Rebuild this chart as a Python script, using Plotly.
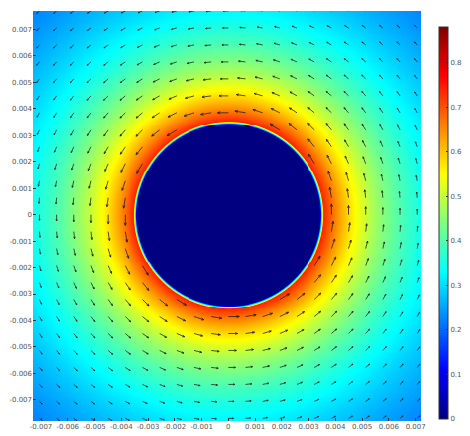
import numpy as np
import plotly.graph_objects as go
import plotly.figure_factory as ff

# ---- values ----
cylinder_radius = 0.00355      # radius of the zero-velocity disc
wall_speed = 0.74              # speed just outside the disc surface
outer_radius = 0.032           # radius where the swirl would vanish (Couette-like decay)
edge_thickness = 0.00013       # width of the thin transition ring
domain_half = 0.0077           # half-size of the computational square
x_range = [-0.0073, 0.0072]
y_range = [-0.0078, 0.0077]
color_max = 0.88
tick_vals = [-0.007, -0.006, -0.005, -0.004, -0.003, -0.002, -0.001, 0,
             0.001, 0.002, 0.003, 0.004, 0.005, 0.006, 0.007]
tick_text = ["-0.007", "-0.006", "-0.005", "-0.004", "-0.003", "-0.002", "-0.001", "0",
             "0.001", "0.002", "0.003", "0.004", "0.005", "0.006", "0.007"]
cbar_vals = [0, 0.1, 0.2, 0.3, 0.4, 0.5, 0.6, 0.7, 0.8]
cbar_text = ["0", "0.1", "0.2", "0.3", "0.4", "0.5", "0.6", "0.7", "0.8"]
arrow_count = 25               # arrows per side of the square

jet = [[0.0, "rgb(0,0,128)"], [0.125, "rgb(0,0,255)"], [0.375, "rgb(0,255,255)"],
       [0.625, "rgb(255,255,0)"], [0.875, "rgb(255,0,0)"], [1.0, "rgb(128,0,0)"]]


def speed(r):
    r = np.maximum(r, 1e-12)
    rr = outer_radius ** 2
    shape = (rr / r - r) / (rr / cylinder_radius - cylinder_radius)
    outside = wall_speed * shape
    t = np.clip((r - (cylinder_radius - edge_thickness)) / edge_thickness, 0, 1)
    ramp = wall_speed * t
    return np.where(r >= cylinder_radius, outside, ramp)


# field
n = 420
gx = np.linspace(-domain_half, domain_half, n)
gy = np.linspace(-domain_half - 0.0001, domain_half, n)
X, Y = np.meshgrid(gx, gy)
R = np.hypot(X, Y)
Z = speed(R)

fig = go.Figure()
fig.add_trace(go.Heatmap(
    x=gx, y=gy, z=np.round(Z, 3), zmin=0, zmax=color_max, colorscale=jet,
    zsmooth="best", hoverinfo="skip",
    colorbar=dict(x=1.046, xanchor="left", xpad=0, ypad=0, thickness=9, len=0.956,
                  y=0.483, yanchor="middle", outlinewidth=1, outlinecolor="#333",
                  tickvals=cbar_vals, ticktext=cbar_text, ticks="inside", ticklen=2,
                  tickcolor="#333", tickfont=dict(size=7, color="#555",
                                                   family="DejaVu Sans"))))

# arrows (counter-clockwise swirl)
ax = np.linspace(-domain_half, domain_half, arrow_count)
AX, AY = np.meshgrid(ax, ax)
AR = np.hypot(AX, AY)
mask = AR > cylinder_radius + 0.0001
px, py, pr = AX[mask], AY[mask], AR[mask]
sp = speed(pr)
u = -py / pr * sp
v = px / pr * sp
q = ff.create_quiver(px, py, u, v, scale=0.0006, arrow_scale=0.28,
                     angle=np.pi / 8, line=dict(color="rgba(25,25,25,0.75)", width=1))
for tr in q.data:
    tr.hoverinfo = "skip"
    tr.showlegend = False
    fig.add_trace(tr)

axis_common = dict(tickvals=tick_vals, ticktext=tick_text, ticks="inside", ticklen=3,
                   tickcolor="#333", showgrid=False, zeroline=False, showline=False,
                   tickfont=dict(size=7, color="#555", family="DejaVu Sans"))
fig.update_layout(
    width=470, height=436, margin=dict(l=33, r=49, t=11, b=15, autoexpand=False),
    paper_bgcolor="white", plot_bgcolor="white", showlegend=False,
    xaxis=dict(range=x_range, **axis_common),
    yaxis=dict(range=y_range, **axis_common),
)
fig.write_html("out.html")
